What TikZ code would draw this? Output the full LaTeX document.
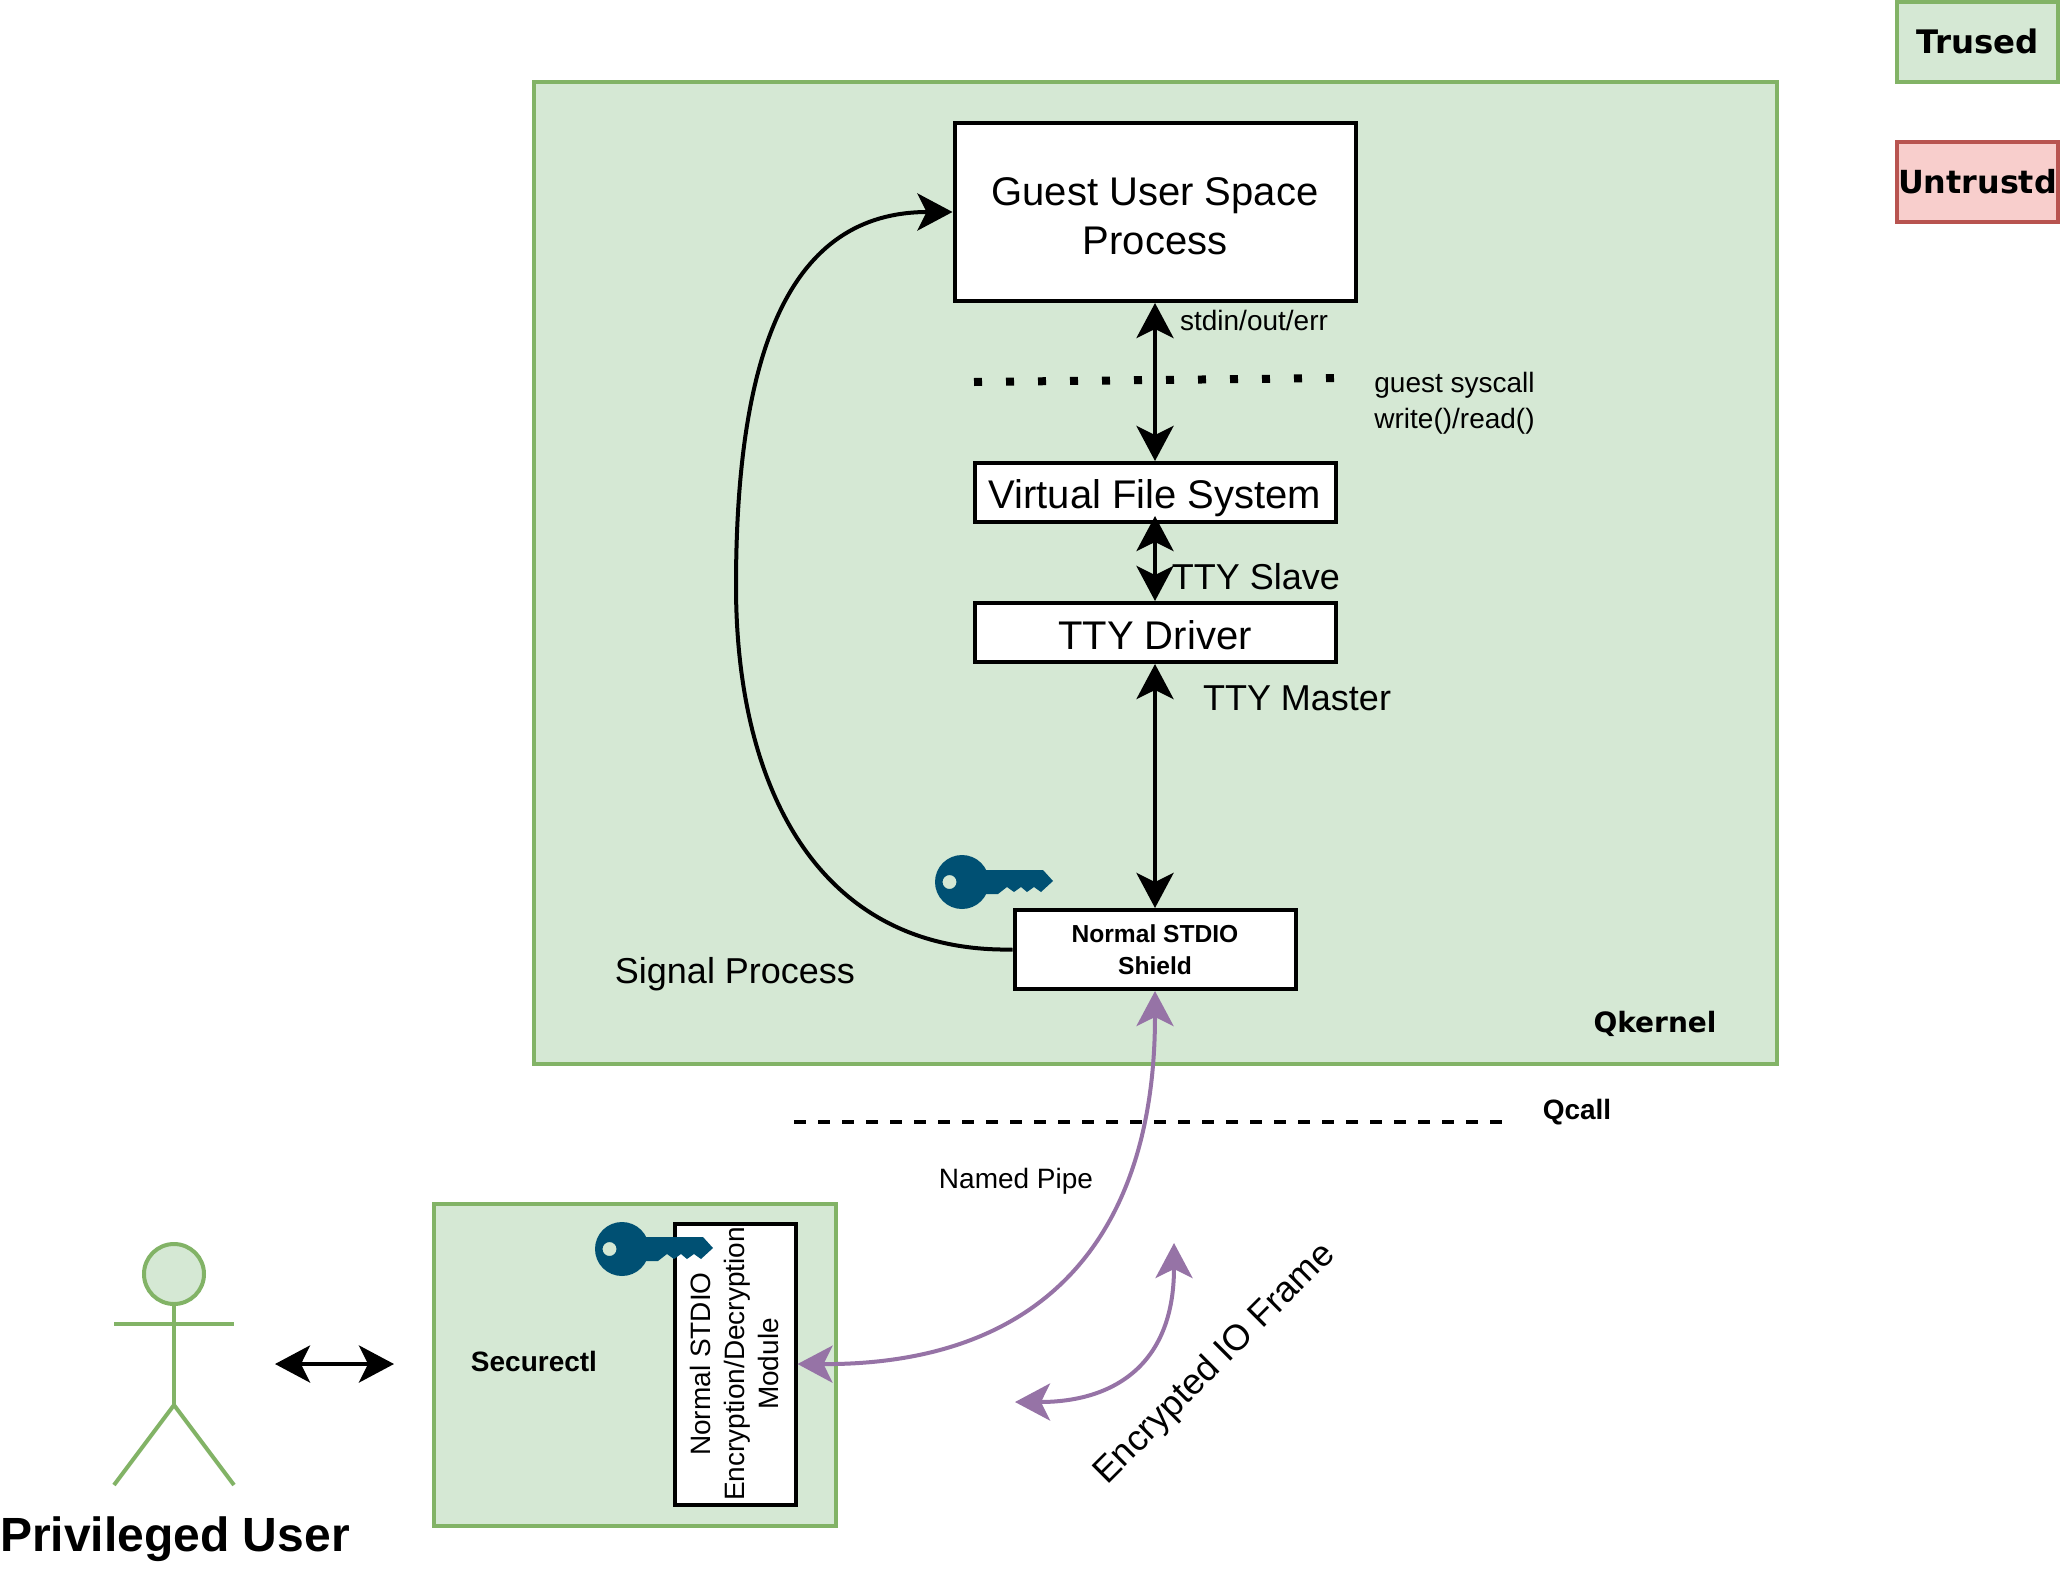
\documentclass[tikz,border=0pt]{standalone}
\usepackage{fontspec}
\setmainfont{Liberation Sans}
\newfontfamily\djv{DejaVu Sans}
\usetikzlibrary{arrows.meta}
\definecolor{grfill}{HTML}{D5E8D4}
\definecolor{grline}{HTML}{82B366}
\definecolor{rdfill}{HTML}{F8CECC}
\definecolor{rdline}{HTML}{B85450}
\definecolor{purp}{HTML}{9673A6}
\definecolor{keyblue}{HTML}{005073}
\tikzset{
  fs/.style n args={2}{font=\fontsize{#1}{#2}\selectfont},
  greenbox/.style={draw=grline,fill=grfill,line width=2pt,inner sep=0pt},
  redbox/.style={draw=rdline,fill=rdfill,line width=2pt,inner sep=0pt},
  whitebox/.style={draw=black,fill=white,line width=2pt,inner sep=0pt,align=center},
  lbl/.style={inner sep=0pt,align=center},
  biarrow/.style={line width=2pt,{Stealth[length=17.5pt,width=18.5pt,inset=4.5pt]}-{Stealth[length=17.5pt,width=18.5pt,inset=4.5pt]}},
  sgarrow/.style={line width=2pt,-{Stealth[length=17.5pt,width=18.5pt,inset=4.5pt]}},
  purparrow/.style={biarrow,draw=purp,fill=none},
  actorline/.style={draw=grline,line width=2pt},
  keyicon/.pic={
    \fill[keyblue,even odd rule]
      (0,0) circle (27)
      (-12.5,0) circle (7);
    \fill[keyblue] (20,-12) -- (81,-12) -- (91,-1) -- (79,10) -- (72,5) -- (65,10) -- (59,5) -- (52,10) -- (45,5) -- (36,12) -- (20,12) -- cycle;
  },
}
\begin{document}
\begin{tikzpicture}[x=0.5pt,y=-0.5pt]
\useasboundingbox (0,0) rectangle (2060,1568);
\fill[white] (0,0) rectangle (2060,1568);
% containers
\node[greenbox,minimum width=621.5pt,minimum height=491pt] (qk) at (1155.5,573) {};
\node[greenbox,minimum width=201pt,minimum height=161pt] (sec) at (635,1365) {};
\node[greenbox,minimum width=80.5pt,minimum height=40pt,fs={16.2}{18}] (trust) at (1977.5,42) {\raisebox{1pt}{\djv\bfseries Trused}};
\node[redbox,minimum width=80.5pt,minimum height=40pt,fs={15.9}{18}] (untrust) at (1977.5,182) {\raisebox{1pt}{\djv\bfseries Untrustd}};
% boxes
\node[whitebox,minimum width=200.5pt,minimum height=89pt,fs={20}{24.4}] (guest) at (1155,212) {\raisebox{-4.3pt}[\height][\depth]{\begin{tabular}{@{}c@{}}Guest User Space\\Process\end{tabular}}};
\node[whitebox,minimum width=180.5pt,minimum height=29.5pt,fs={20}{24}] (vfs) at (1155,492.5) {\raisebox{-3pt}[\height][\depth]{Virtual File System}};
\node[whitebox,minimum width=180.5pt,minimum height=29.5pt,fs={20}{24}] (tty) at (1155,632.5) {\raisebox{-1.2pt}[\height][\depth]{TTY Driver}};
\node[whitebox,minimum width=140.5pt,minimum height=39.5pt,fs={12.3}{16}] (shield) at (1155,949.5) {\bfseries Normal STDIO\\\bfseries Shield};
\node[whitebox,minimum width=60.5pt,minimum height=140.5pt] (mod) at (735,1364) {};
\node[lbl,rotate=90,fs={14}{17}] (modtxt) at (734,1364) {Normal STDIO\\Encryption/Decryption\\Module};
% keys
\pic at (962,882) {keyicon};
\pic at (622,1249) {keyicon};
% dotted and dashed lines
\coordinate (dota) at (974,382);
\coordinate (dotb) at (1338,378);
\draw[line width=4pt,dash pattern=on 4pt off 12pt] (dota) -- (dotb);
\coordinate (dasha) at (794,1122);
\coordinate (dashb) at (1506,1122);
\draw[line width=2pt,dash pattern=on 6pt off 6pt] (dasha) -- (dashb);
% connectors
\draw[biarrow] (guest.south) -- (vfs.north);
\draw[biarrow] ([yshift=4pt]vfs.south) -- (tty.north);
\draw[biarrow] (tty.south) -- (shield.north);
\draw[sgarrow] (shield.west) .. controls (820,953) and (736,790) .. (736,586) .. controls (736,350) and (790,212) .. (guest.west);
\draw[purparrow] (shield.south) .. controls (1155,1230) and (1050,1365) .. (mod.east);
\coordinate (ioa) at (1015,1402);
\coordinate (iob) at (1174,1243);
\draw[purparrow] (ioa) .. controls (1110,1402) and (1174,1368) .. (iob);
\coordinate (usa) at (275,1364);
\coordinate (usb) at (394,1364);
\draw[biarrow] (usa) -- (usb);
% actor
\node[draw=grline,fill=grfill,line width=2pt,circle,minimum size=30pt,inner sep=0pt] (head) at (174,1274) {};
\coordinate (hip) at (174,1405);
\coordinate (arml) at (114,1324);
\coordinate (armr) at (234,1324);
\coordinate (legl) at (114,1485);
\coordinate (legr) at (234,1485);
\draw[actorline] (head.south) -- (hip);
\draw[actorline] (arml) -- (armr);
\draw[actorline] (legl) -- (hip) -- (legr);
% labels
\node[lbl,fs={24}{28}] (priv) at (175,1539) {\bfseries Privileged User};
\node[lbl,fs={14}{17}] (l1) at (1254,320) {stdin/out/err};
\node[lbl,fs={14}{17.8},align=left,anchor=west] (l2) at (1374,403) {guest syscall\\write()/read()};
\node[lbl,fs={18}{21}] (l3) at (1256,577) {TTY Slave};
\node[lbl,fs={18}{21}] (l4) at (1297,698) {TTY Master};
\node[lbl,fs={18}{21}] (l5) at (735,974) {Signal Process};
\node[lbl,fs={14}{16}] (l6) at (1655,1024) {\djv\bfseries Qkernel};
\node[lbl,fs={14}{17}] (l7) at (1577,1112) {\bfseries Qcall};
\node[lbl,fs={14}{17}] (l8) at (1016,1181) {Named Pipe};
\node[lbl,fs={14}{17}] (l9) at (534,1361) {\bfseries Securectl};
\node[lbl,rotate=45,fs={18}{21}] (l10) at (1215,1364) {Encrypted IO Frame};
\end{tikzpicture}
\end{document}
